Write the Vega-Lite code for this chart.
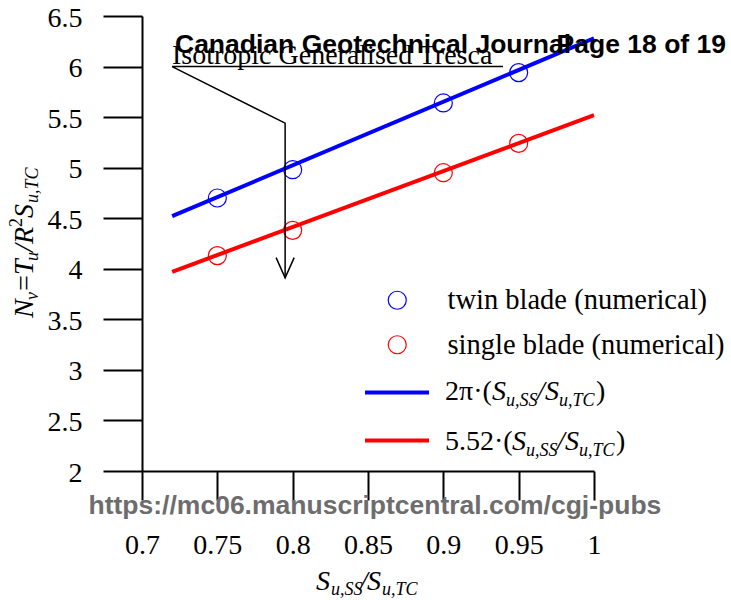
{
  "$schema": "https://vega.github.io/schema/vega-lite/v6.json",
  "width": 452,
  "height": 455,
  "autosize": {"type": "none"},
  "padding": {"left": 142, "top": 16, "right": 137, "bottom": 129},
  "background": "white",
  "config": {
    "view": {"stroke": null},
    "axis": {"grid": false, "domainColor": "black", "domainWidth": 2, "tickColor": "black", "tickWidth": 2, "labelFlush": false, "labelOverlap": false, "labelColor": "black", "labelFont": "Liberation Serif", "labelFontSize": 28},
    "legend": {"labelFont": "Liberation Serif", "labelFontSize": 28.5, "labelColor": "black"},
    "text": {"font": "Liberation Serif", "fontSize": 28, "color": "black", "align": "left", "baseline": "alphabetic"}
  },
  "data": {"values": [{"note": "annotation"}]},
  "datasets": {
    "fits": [
      {"series": "2π·(Su,SS/Su,TC)", "ratio": 0.72, "Nv": 4.52},
      {"series": "2π·(Su,SS/Su,TC)", "ratio": 1.0, "Nv": 6.28},
      {"series": "5.52·(Su,SS/Su,TC)", "ratio": 0.72, "Nv": 3.97},
      {"series": "5.52·(Su,SS/Su,TC)", "ratio": 1.0, "Nv": 5.52}
    ],
    "numerical": [
      {"series": "twin blade (numerical)", "ratio": 0.75, "Nv": 4.70},
      {"series": "twin blade (numerical)", "ratio": 0.8, "Nv": 4.98},
      {"series": "twin blade (numerical)", "ratio": 0.9, "Nv": 5.64},
      {"series": "twin blade (numerical)", "ratio": 0.95, "Nv": 5.94},
      {"series": "single blade (numerical)", "ratio": 0.75, "Nv": 4.13},
      {"series": "single blade (numerical)", "ratio": 0.8, "Nv": 4.38},
      {"series": "single blade (numerical)", "ratio": 0.9, "Nv": 4.95},
      {"series": "single blade (numerical)", "ratio": 0.95, "Nv": 5.24}
    ],
    "annotation": [
      {"part": "leader", "o": 1, "ratio": 0.9396, "Nv": 6.0},
      {"part": "leader", "o": 2, "ratio": 0.72, "Nv": 6.0},
      {"part": "leader", "o": 3, "ratio": 0.795, "Nv": 5.44},
      {"part": "leader", "o": 4, "ratio": 0.795, "Nv": 3.91},
      {"part": "head", "o": 1, "ratio": 0.789, "Nv": 4.11},
      {"part": "head", "o": 2, "ratio": 0.795, "Nv": 3.91},
      {"part": "head", "o": 3, "ratio": 0.801, "Nv": 4.11}
    ]
  },
  "layer": [
    {
      "data": {"name": "fits"},
      "mark": {"type": "line", "strokeWidth": 4},
      "encoding": {
        "x": {
          "field": "ratio", "type": "quantitative",
          "scale": {"domain": [0.7, 1.0], "nice": false, "zero": false},
          "axis": {
            "title": null,
            "values": [0.7, 0.725, 0.75, 0.775, 0.8, 0.825, 0.85, 0.875, 0.9, 0.925, 0.95, 0.975, 1.0],
            "format": "~g",
            "labelExpr": "abs(datum.value*20 - round(datum.value*20)) < 0.001 ? datum.label : ''",
            "tickSize": {"condition": {"test": "abs(datum.value*20 - round(datum.value*20)) < 0.001", "value": 29}, "value": 20},
            "labelFont": "Liberation Serif",
            "labelPadding": 31, "labelFontSize": 28
          }
        },
        "y": {
          "field": "Nv", "type": "quantitative",
          "scale": {"domain": [2, 6.5], "nice": false, "zero": false},
          "axis": {
            "title": null,
            "values": [2, 2.25, 2.5, 2.75, 3, 3.25, 3.5, 3.75, 4, 4.25, 4.5, 4.75, 5, 5.25, 5.5, 5.75, 6, 6.25, 6.5],
            "format": "~g",
            "labelExpr": "abs(datum.value*2 - round(datum.value*2)) < 0.001 ? datum.label : ''",
            "tickSize": {"condition": {"test": "abs(datum.value*2 - round(datum.value*2)) < 0.001", "value": 39}, "value": 20},
            "labelFont": "Liberation Serif",
            "labelPadding": 21, "labelOffset": 2, "labelFontSize": 28
          }
        },
        "stroke": {
          "field": "series", "type": "nominal",
          "scale": {"domain": ["2π·(Su,SS/Su,TC)", "5.52·(Su,SS/Su,TC)"], "range": ["#0000ff", "#ff0000"]},
          "legend": {
            "orient": "none", "legendX": 221, "legendY": 342.5, "title": null, "padding": 0,
            "symbolType": "stroke", "symbolSize": 4096, "symbolStrokeWidth": 4,
            "labelExpr": "' '", "labelFontSize": 28, "labelOffset": 20, "rowPadding": 0
          }
        }
      }
    },
    {
      "data": {"name": "numerical"},
      "mark": {"type": "point", "shape": "circle", "filled": false, "size": 324, "strokeWidth": 1.2, "opacity": 1},
      "encoding": {
        "x": {"field": "ratio", "type": "quantitative"},
        "y": {"field": "Nv", "type": "quantitative"},
        "color": {
          "field": "series", "type": "nominal",
          "scale": {"domain": ["twin blade (numerical)", "single blade (numerical)"], "range": ["#0000ff", "#ff0000"]},
          "legend": {
            "orient": "none", "legendX": 241, "legendY": 270, "title": null, "padding": 0,
            "symbolType": "circle", "symbolSize": 324, "symbolStrokeWidth": 1.2,
            "labelFont": "Liberation Serif", "labelFontSize": 28.5, "labelColor": "black",
            "labelOffset": 36, "rowPadding": 15.5, "labelLimit": 400
          }
        }
      }
    },
    {
      "data": {"name": "annotation"},
      "mark": {"type": "line", "color": "black", "strokeWidth": 1.5},
      "encoding": {
        "x": {"field": "ratio", "type": "quantitative"},
        "y": {"field": "Nv", "type": "quantitative"},
        "detail": {"field": "part", "type": "nominal"},
        "order": {"field": "o", "type": "quantitative"}
      }
    },
    {"mark": {"type": "text", "text": "Isotropic Generalised Tresca"}, "encoding": {"x": {"datum": 0.7199}, "y": {"datum": 6.026}}},
    {"mark": {"type": "text", "text": "Canadian Geotechnical Journal", "font": "Liberation Sans", "fontWeight": "bold", "fontSize": 26.5}, "encoding": {"x": {"datum": 0.7219}, "y": {"datum": 6.139}}},
    {"mark": {"type": "text", "text": "Page 18 of 19", "font": "Liberation Sans", "fontWeight": "bold", "fontSize": 26.5, "align": "right"}, "encoding": {"x": {"datum": 1.0876}, "y": {"datum": 6.139}}},
    {"mark": {"type": "text", "text": "https://mc06.manuscriptcentral.com/cgj-pubs", "font": "Liberation Sans", "fontWeight": "bold", "fontSize": 26.5, "align": "center", "color": "#6d6d6d"}, "encoding": {"x": {"datum": 0.8546}, "y": {"datum": 1.575}}},

    {"mark": {"type": "text", "text": "S", "fontStyle": "italic", "dx": 0}, "encoding": {"x": {"datum": 0.8155}, "y": {"datum": 0.823}}},
    {"mark": {"type": "text", "text": "u,SS", "fontStyle": "italic", "fontSize": 18, "dx": 15, "dy": 5}, "encoding": {"x": {"datum": 0.8155}, "y": {"datum": 0.823}}},
    {"mark": {"type": "text", "text": "/", "fontStyle": "italic", "dx": 44}, "encoding": {"x": {"datum": 0.8155}, "y": {"datum": 0.823}}},
    {"mark": {"type": "text", "text": "S", "fontStyle": "italic", "dx": 51}, "encoding": {"x": {"datum": 0.8155}, "y": {"datum": 0.823}}},
    {"mark": {"type": "text", "text": "u,TC", "fontStyle": "italic", "fontSize": 18, "dx": 66, "dy": 5}, "encoding": {"x": {"datum": 0.8155}, "y": {"datum": 0.823}}},

    {"mark": {"type": "text", "text": "N", "fontStyle": "italic", "angle": 270, "dx": 0}, "encoding": {"x": {"datum": 0.6277}, "y": {"datum": 3.513}}},
    {"mark": {"type": "text", "text": "v", "fontStyle": "italic", "fontSize": 18, "angle": 270, "dx": 18, "dy": 5}, "encoding": {"x": {"datum": 0.6277}, "y": {"datum": 3.513}}},
    {"mark": {"type": "text", "text": "=", "angle": 270, "dx": 27}, "encoding": {"x": {"datum": 0.6277}, "y": {"datum": 3.513}}},
    {"mark": {"type": "text", "text": "T", "fontStyle": "italic", "angle": 270, "dx": 43}, "encoding": {"x": {"datum": 0.6277}, "y": {"datum": 3.513}}},
    {"mark": {"type": "text", "text": "u", "fontStyle": "italic", "fontSize": 18, "angle": 270, "dx": 57, "dy": 5}, "encoding": {"x": {"datum": 0.6277}, "y": {"datum": 3.513}}},
    {"mark": {"type": "text", "text": "/", "fontStyle": "italic", "angle": 270, "dx": 66}, "encoding": {"x": {"datum": 0.6277}, "y": {"datum": 3.513}}},
    {"mark": {"type": "text", "text": "R", "fontStyle": "italic", "angle": 270, "dx": 74}, "encoding": {"x": {"datum": 0.6277}, "y": {"datum": 3.513}}},
    {"mark": {"type": "text", "text": "2", "fontSize": 18, "angle": 270, "dx": 91, "dy": -11}, "encoding": {"x": {"datum": 0.6277}, "y": {"datum": 3.513}}},
    {"mark": {"type": "text", "text": "S", "fontStyle": "italic", "angle": 270, "dx": 100}, "encoding": {"x": {"datum": 0.6277}, "y": {"datum": 3.513}}},
    {"mark": {"type": "text", "text": "u,TC", "fontStyle": "italic", "fontSize": 18, "angle": 270, "dx": 115, "dy": 5}, "encoding": {"x": {"datum": 0.6277}, "y": {"datum": 3.513}}},

    {"mark": {"type": "text", "text": "2π·(", "dx": 0}, "encoding": {"x": {"datum": 0.9011}, "y": {"datum": 2.702}}},
    {"mark": {"type": "text", "text": "S", "fontStyle": "italic", "dx": 47}, "encoding": {"x": {"datum": 0.9011}, "y": {"datum": 2.702}}},
    {"mark": {"type": "text", "text": "u,SS", "fontStyle": "italic", "fontSize": 18, "dx": 61, "dy": 6}, "encoding": {"x": {"datum": 0.9011}, "y": {"datum": 2.702}}},
    {"mark": {"type": "text", "text": "/", "fontStyle": "italic", "dx": 92}, "encoding": {"x": {"datum": 0.9011}, "y": {"datum": 2.702}}},
    {"mark": {"type": "text", "text": "S", "fontStyle": "italic", "dx": 100}, "encoding": {"x": {"datum": 0.9011}, "y": {"datum": 2.702}}},
    {"mark": {"type": "text", "text": "u,TC", "fontStyle": "italic", "fontSize": 18, "dx": 114, "dy": 6}, "encoding": {"x": {"datum": 0.9011}, "y": {"datum": 2.702}}},
    {"mark": {"type": "text", "text": ")", "dx": 151}, "encoding": {"x": {"datum": 0.9011}, "y": {"datum": 2.702}}},

    {"mark": {"type": "text", "text": "5.52·(", "dx": 0}, "encoding": {"x": {"datum": 0.9011}, "y": {"datum": 2.208}}},
    {"mark": {"type": "text", "text": "S", "fontStyle": "italic", "dx": 67}, "encoding": {"x": {"datum": 0.9011}, "y": {"datum": 2.208}}},
    {"mark": {"type": "text", "text": "u,SS", "fontStyle": "italic", "fontSize": 18, "dx": 81, "dy": 6}, "encoding": {"x": {"datum": 0.9011}, "y": {"datum": 2.208}}},
    {"mark": {"type": "text", "text": "/", "fontStyle": "italic", "dx": 112}, "encoding": {"x": {"datum": 0.9011}, "y": {"datum": 2.208}}},
    {"mark": {"type": "text", "text": "S", "fontStyle": "italic", "dx": 120}, "encoding": {"x": {"datum": 0.9011}, "y": {"datum": 2.208}}},
    {"mark": {"type": "text", "text": "u,TC", "fontStyle": "italic", "fontSize": 18, "dx": 134, "dy": 6}, "encoding": {"x": {"datum": 0.9011}, "y": {"datum": 2.208}}},
    {"mark": {"type": "text", "text": ")", "dx": 171}, "encoding": {"x": {"datum": 0.9011}, "y": {"datum": 2.208}}}
  ]
}
